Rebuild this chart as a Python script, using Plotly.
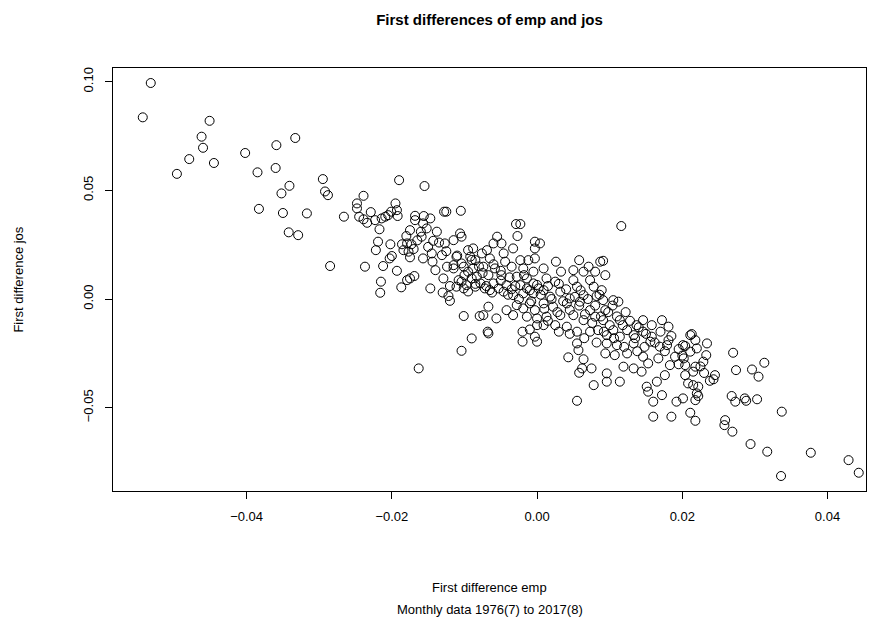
import plotly.graph_objects as go

# Monthly first differences of emp (x) and jos (y), grouped by region of the cloud.
emp_upper = [-0.0543, -0.0532, -0.0451, -0.0462, -0.0460, -0.0479, -0.0445, -0.0496, -0.0402, -0.0359,
             -0.0333, -0.0385, -0.0360, -0.0341, -0.0352, -0.0295, -0.0292, -0.0288, -0.0383, -0.0350,
             -0.0317, -0.0342, -0.0329, -0.0285]
jos_upper = [0.0836, 0.0994, 0.0820, 0.0747, 0.0696, 0.0644, 0.0626, 0.0576, 0.0672, 0.0708,
             0.0741, 0.0583, 0.0603, 0.0521, 0.0486, 0.0552, 0.0495, 0.0478, 0.0415, 0.0396,
             0.0394, 0.0307, 0.0294, 0.0152]

emp_left = [-0.0190, -0.0239, -0.0248, -0.0248, -0.0266, -0.0245, -0.0229, -0.0239, -0.0234, -0.0223,
            -0.0214, -0.0209, -0.0205, -0.0201, -0.0195, -0.0193, -0.0192, -0.0217, -0.0168, -0.0168,
            -0.0175, -0.0219, -0.0222, -0.0202, -0.0186, -0.0179, -0.0173, -0.0184, -0.0177, -0.0200,
            -0.0203, -0.0175, -0.0237, -0.0212, -0.0193, -0.0215, -0.0216, -0.0187, -0.0179, -0.0175,
            -0.0169, -0.0163]
jos_left = [0.0547, 0.0475, 0.0440, 0.0417, 0.0379, 0.0379, 0.0400, 0.0367, 0.0351, 0.0363,
            0.0371, 0.0379, 0.0386, 0.0402, 0.0440, 0.0409, 0.0382, 0.0321, 0.0383, 0.0363,
            0.0317, 0.0264, 0.0225, 0.0252, 0.0252, 0.0256, 0.0252, 0.0225, 0.0218, 0.0198,
            0.0187, 0.0192, 0.0149, 0.0152, 0.0130, 0.0080, 0.0029, 0.0054, 0.0087, 0.0095,
            0.0106, -0.0319]

emp_midleft = [-0.0155, -0.0125, -0.0128, -0.0105, -0.0156, -0.0147, -0.0157, -0.0152, -0.0138, -0.0159,
               -0.0143, -0.0127, -0.0115, -0.0106, -0.0104, -0.0131, -0.0157, -0.0144, -0.0124, -0.0115,
               -0.0104, -0.0140, -0.0129, -0.0147, -0.0122, -0.0111, -0.0104, -0.0101, -0.0095, -0.0088,
               -0.0092, -0.0085, -0.0111, -0.0101, -0.0095, -0.0088, -0.0090, -0.0083, -0.0097, -0.0085,
               -0.0108, -0.0115, -0.0120, -0.0101, -0.0079, -0.0090, -0.0104]
jos_midleft = [0.0520, 0.0402, 0.0402, 0.0406, 0.0382, 0.0371, 0.0348, 0.0325, 0.0310, 0.0287,
               0.0268, 0.0256, 0.0271, 0.0302, 0.0287, 0.0202, 0.0187, 0.0172, 0.0149, 0.0156,
               0.0164, 0.0133, 0.0095, 0.0049, 0.0014, 0.0057, 0.0080, 0.0049, 0.0225, 0.0233,
               0.0195, 0.0179, 0.0195, 0.0149, 0.0126, 0.0141, 0.0095, 0.0103, 0.0064, 0.0057,
               0.0087, 0.0141, -0.0008, -0.0078, -0.0078, -0.0181, -0.0238]

emp_core_hi = [-0.0029, -0.0023, -0.0027, -0.0055, -0.0049, -0.0033, -0.0060, -0.0069, -0.0003, -0.0003,
               -0.0046, -0.0076, -0.0065, -0.0044, -0.0023, -0.0012, -0.0003, -0.0074, -0.0058, -0.0035,
               -0.0019, -0.0005, -0.0067, -0.0049, -0.0028, -0.0014, -0.0078, -0.0060, -0.0042, -0.0023,
               -0.0005, -0.0072, -0.0053, -0.0035, -0.0014, 0.0002]
jos_core_hi = [0.0345, 0.0345, 0.0290, 0.0287, 0.0256, 0.0233, 0.0256, 0.0225, 0.0264, 0.0233,
               0.0210, 0.0210, 0.0187, 0.0172, 0.0179, 0.0179, 0.0187, 0.0149, 0.0141, 0.0149,
               0.0141, 0.0126, 0.0110, 0.0110, 0.0103, 0.0095, 0.0072, 0.0072, 0.0064, 0.0064,
               0.0072, 0.0049, 0.0049, 0.0045, 0.0049, 0.0049]

emp_core_lo = [-0.0065, -0.0046, -0.0033, -0.0019, -0.0005, -0.0067, -0.0074, -0.0056, -0.0042, -0.0033,
               -0.0028, -0.0019, -0.0010, -0.0003, -0.0014, 0.0000, -0.0068, -0.0067, -0.0020, -0.0020,
               -0.0003, 0.0000]
jos_core_lo = [0.0041, 0.0034, 0.0018, 0.0026, 0.0026, -0.0035, -0.0074, -0.0089, -0.0051, -0.0074,
               -0.0028, -0.0043, -0.0020, -0.0051, -0.0081, -0.0089, -0.0150, -0.0158, -0.0150, -0.0196,
               -0.0173, -0.0196]

emp_right_hi = [0.0004, 0.0026, 0.0009, 0.0033, 0.0058, 0.0071, 0.0050, 0.0064, 0.0080, 0.0087,
                0.0013, 0.0025, 0.0050, 0.0073, 0.0055, 0.0078, 0.0009, 0.0032, 0.0064, 0.0018,
                0.0045, 0.0082, 0.0116]
jos_right_hi = [0.0256, 0.0172, 0.0141, 0.0126, 0.0179, 0.0149, 0.0133, 0.0126, 0.0126, 0.0172,
                0.0095, 0.0080, 0.0087, 0.0087, 0.0057, 0.0057, 0.0041, 0.0034, 0.0018, 0.0011,
                0.0003, 0.0014, 0.0336]

emp_right_lo = [0.0009, 0.0022, 0.0041, 0.0059, 0.0073, 0.0013, 0.0032, 0.0050, 0.0064, 0.0080,
                0.0009, 0.0025, 0.0041, 0.0055, 0.0073, 0.0084, 0.0055, 0.0057, 0.0043, 0.0064,
                0.0075, 0.0062, 0.0058, 0.0078, 0.0055]
jos_right_lo = [-0.0020, -0.0035, -0.0020, -0.0012, -0.0051, -0.0081, -0.0074, -0.0074, -0.0097, -0.0081,
                -0.0120, -0.0120, -0.0127, -0.0150, -0.0150, -0.0143, -0.0204, -0.0235, -0.0268, -0.0277,
                -0.0319, -0.0319, -0.0339, -0.0396, -0.0468]

emp_lower = [0.0091, 0.0094, 0.0089, 0.0105, 0.0112, 0.0091, 0.0094, 0.0091, 0.0114, 0.0146,
             0.0137, 0.0105, 0.0124, 0.0146, 0.0096, 0.0114, 0.0133, 0.0172, 0.0181, 0.0158,
             0.0181, 0.0169, 0.0201, 0.0211, 0.0096, 0.0110, 0.0133, 0.0156, 0.0179, 0.0094,
             0.0107, 0.0124, 0.0146, 0.0153, 0.0167, 0.0190, 0.0183, 0.0096, 0.0119, 0.0133,
             0.0144, 0.0096, 0.0114, 0.0176, 0.0165, 0.0151, 0.0153, 0.0172, 0.0160, 0.0192,
             0.0160, 0.0185]
jos_lower = [0.0176, 0.0110, 0.0041, -0.0005, -0.0012, -0.0005, -0.0051, -0.0097, -0.0097, -0.0097,
             -0.0120, -0.0143, -0.0143, -0.0150, -0.0166, -0.0173, -0.0166, -0.0097, -0.0127, -0.0173,
             -0.0189, -0.0219, -0.0212, -0.0166, -0.0204, -0.0212, -0.0204, -0.0196, -0.0212, -0.0250,
             -0.0258, -0.0250, -0.0265, -0.0296, -0.0273, -0.0265, -0.0304, -0.0342, -0.0311, -0.0319,
             -0.0334, -0.0380, -0.0380, -0.0350, -0.0380, -0.0403, -0.0426, -0.0442, -0.0472, -0.0472,
             -0.0541, -0.0541]

emp_tail = [0.0213, 0.0218, 0.0204, 0.0234, 0.0211, 0.0220, 0.0202, 0.0233, 0.0229, 0.0204,
            0.0218, 0.0204, 0.0215, 0.0208, 0.0215, 0.0222, 0.0238, 0.0245, 0.0243, 0.0201,
            0.0220, 0.0218, 0.0222, 0.0211, 0.0218, 0.0270, 0.0313, 0.0274, 0.0296, 0.0305,
            0.0268, 0.0273, 0.0286, 0.0288, 0.0303, 0.0337, 0.0259, 0.0258, 0.0269, 0.0294,
            0.0317, 0.0377, 0.0336, 0.0429, 0.0443]
jos_tail = [-0.0161, -0.0189, -0.0216, -0.0204, -0.0242, -0.0227, -0.0273, -0.0258, -0.0288, -0.0304,
            -0.0311, -0.0350, -0.0334, -0.0388, -0.0396, -0.0403, -0.0376, -0.0350, -0.0369, -0.0457,
            -0.0434, -0.0465, -0.0446, -0.0523, -0.0560, -0.0247, -0.0293, -0.0327, -0.0324, -0.0357,
            -0.0446, -0.0472, -0.0457, -0.0468, -0.0461, -0.0518, -0.0557, -0.0580, -0.0610, -0.0667,
            -0.0702, -0.0707, -0.0814, -0.0741, -0.0799]

# Overlapping observations in the dense centre of the cloud
emp_dense = [-0.0070, -0.0062, -0.0050, -0.0040, -0.0030, -0.0025, -0.0018, -0.0010, -0.0008, 0.0000,
             0.0005, 0.0010, 0.0015, 0.0020, 0.0028, 0.0030, 0.0036, 0.0040, 0.0045, 0.0052,
             0.0058, 0.0060, 0.0066, 0.0070, 0.0076, 0.0080, 0.0086, 0.0088, 0.0098, 0.0100,
             0.0104, 0.0110, 0.0118, 0.0122, 0.0128, 0.0135, 0.0140, 0.0150, 0.0158, 0.0162,
             0.0170, 0.0176, -0.0085, -0.0095, -0.0080, -0.0075, -0.0060, -0.0050, -0.0038, -0.0100,
             -0.0110, -0.0090, -0.0125, -0.0135, -0.0150, -0.0145, -0.0165, -0.0160, -0.0170, -0.0180,
             -0.0120, -0.0130, 0.0000, -0.0010, 0.0015, 0.0030, 0.0045, 0.0065, 0.0082, 0.0092,
             0.0106, 0.0120, 0.0138, 0.0148, 0.0185, 0.0195, 0.0200, 0.0225, 0.0195, 0.0230]
jos_dense = [0.0060, 0.0030, 0.0085, 0.0020, 0.0060, 0.0000, 0.0110, 0.0040, -0.0010, 0.0065,
             0.0020, -0.0045, 0.0060, 0.0000, -0.0060, 0.0070, -0.0010, 0.0045, -0.0050, 0.0010,
             -0.0030, 0.0040, -0.0070, 0.0000, -0.0110, -0.0030, 0.0020, -0.0080, -0.0060, -0.0120,
             -0.0030, -0.0080, -0.0120, -0.0060, -0.0100, -0.0180, -0.0130, -0.0160, -0.0120, -0.0200,
             -0.0150, -0.0240, 0.0070, 0.0035, 0.0150, 0.0120, 0.0160, 0.0130, 0.0100, 0.0110,
             0.0200, 0.0180, 0.0220, 0.0260, 0.0240, 0.0210, 0.0270, 0.0310, 0.0230, 0.0290,
             0.0060, 0.0030, -0.0120, -0.0140, -0.0100, -0.0150, -0.0160, -0.0180, -0.0200, -0.0150,
             -0.0180, -0.0220, -0.0240, -0.0220, -0.0170, -0.0230, -0.0260, -0.0310, -0.0300, -0.0340]

emp = (emp_upper + emp_left + emp_midleft + emp_core_hi + emp_core_lo
       + emp_right_hi + emp_right_lo + emp_lower + emp_tail + emp_dense)
jos = (jos_upper + jos_left + jos_midleft + jos_core_hi + jos_core_lo
       + jos_right_hi + jos_right_lo + jos_lower + jos_tail + jos_dense)
assert len(emp) == len(jos)

x_ticks = [-0.04, -0.02, 0.00, 0.02, 0.04]
y_ticks = [-0.05, 0.00, 0.05, 0.10]

FONT = "Liberation Sans, Arial, Helvetica, sans-serif"

fig = go.Figure(
    go.Scatter(
        x=emp, y=jos, mode="markers",
        marker=dict(symbol="circle-open", size=9, color="black", line=dict(width=1, color="black")),
        hoverinfo="x+y",
    )
)

axis_common = dict(
    showgrid=False, zeroline=False, showline=True, mirror=True,
    linecolor="black", linewidth=1, ticks="outside", ticklen=7, tickwidth=1,
    tickcolor="black", tickformat=".2f", tickfont=dict(family=FONT, size=13, color="black"),
)

fig.update_xaxes(range=[-0.0584, 0.0453], tickvals=x_ticks, ticklabelstandoff=6, **axis_common)
fig.update_yaxes(range=[-0.0883, 0.1063], tickvals=y_ticks, tickangle=-90,
                 ticklabelstandoff=7, **axis_common)

fig.update_layout(
    width=882, height=633,
    margin=dict(l=113, r=16, t=68, b=142, pad=0),
    paper_bgcolor="white", plot_bgcolor="white",
    showlegend=False,
    title=dict(
        text="<b>First differences of emp and jos</b>",
        x=0.5, xref="paper", xanchor="center",
        y=1 - 20 / 633, yref="container", yanchor="middle",
        font=dict(family=FONT, size=15, color="black"),
    ),
    annotations=[
        dict(text="First difference emp", xref="paper", yref="paper", x=0.5, y=-0.227,
             xanchor="center", yanchor="middle", showarrow=False,
             font=dict(family=FONT, size=13, color="black")),
        dict(text="Monthly data 1976(7) to 2017(8)", xref="paper", yref="paper", x=0.5, y=-0.281,
             xanchor="center", yanchor="middle", showarrow=False,
             font=dict(family=FONT, size=13, color="black")),
        dict(text="First difference jos", xref="paper", yref="paper", x=-0.126, y=0.5,
             xanchor="center", yanchor="middle", textangle=-90, showarrow=False,
             font=dict(family=FONT, size=13, color="black")),
    ],
)

fig.write_html("out.html")
